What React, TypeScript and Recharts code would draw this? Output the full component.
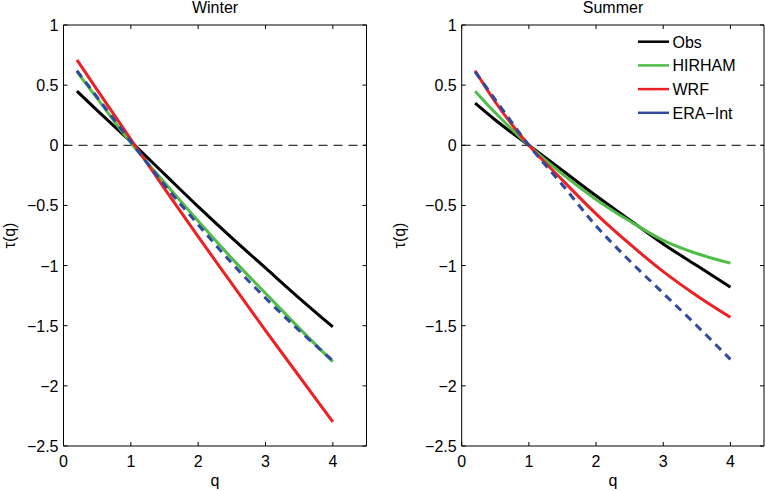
import React from "react";
import {
  Legend,
  Line,
  LineChart,
  ReferenceArea,
  ReferenceLine,
  XAxis,
  YAxis,
} from "recharts";

// q grid (curves start at q = 0.2)
const Q = [0.2, 0.5, 1, 1.5, 2, 2.5, 3, 3.5, 4];

// Winter tau(q)
const WINTER_OBS = [0.45, 0.29, 0.03, -0.24, -0.51, -0.77, -1.02, -1.27, -1.51];
const WINTER_HIRHAM = [0.61, 0.39, 0.02, -0.31, -0.63, -0.94, -1.23, -1.52, -1.8];
const WINTER_WRF = [0.71, 0.46, 0.05, -0.36, -0.76, -1.15, -1.54, -1.92, -2.3];
const WINTER_ERA = [0.62, 0.4, 0.03, -0.33, -0.66, -0.98, -1.27, -1.54, -1.79];

// Summer tau(q)
const SUMMER_OBS = [0.35, 0.21, 0.0, -0.21, -0.42, -0.62, -0.82, -1.0, -1.18];
const SUMMER_HIRHAM = [0.45, 0.27, 0.0, -0.24, -0.45, -0.63, -0.79, -0.9, -0.98];
const SUMMER_WRF = [0.62, 0.36, 0.0, -0.29, -0.57, -0.82, -1.05, -1.25, -1.43];
const SUMMER_ERA = [0.61, 0.38, 0.0, -0.33, -0.67, -0.96, -1.23, -1.5, -1.78];

const X_TICKS = [0, 1, 2, 3, 4];
const Y_TICKS = [-2.5, -2, -1.5, -1, -0.5, 0, 0.5, 1];

const SERIES = [
  { key: "obs", name: "Obs", color: "#000000", dash: undefined },
  { key: "hirham", name: "HIRHAM", color: "#4fbd47", dash: undefined },
  { key: "wrf", name: "WRF", color: "#ed2024", dash: undefined },
  { key: "era", name: "ERA\u2212Int", color: "#2f4a9e", dash: "8 6" },
];

const FONT = '"Liberation Sans", Arial, Helvetica, sans-serif';
const FS = 16;
const H = 491;
const TOP = 25;
const BOTTOM = 446;

const fmt = (v: number) => (v < 0 ? "\u2212" + Math.abs(v) : String(v));

function rows(obs: number[], hirham: number[], wrf: number[], era: number[]) {
  return Q.map((q, i) => ({
    q,
    obs: obs[i],
    hirham: hirham[i],
    wrf: wrf[i],
    era: era[i],
  }));
}

function xTick(top: number) {
  return (p: any) => {
    const { x, y, payload } = p;
    return (
      <g>
        <line x1={x} x2={x} y1={y} y2={y - 4} stroke="#000" />
        <line x1={x} x2={x} y1={top} y2={top + 4} stroke="#000" />
        <text x={x} y={y + 21} textAnchor="middle" fontSize={FS} fontFamily={FONT} fill="#000">
          {fmt(payload.value)}
        </text>
      </g>
    );
  };
}

function yTick(right: number) {
  return (p: any) => {
    const { x, y, payload } = p;
    return (
      <g>
        <line x1={x} x2={x + 4} y1={y} y2={y} stroke="#000" />
        <line x1={right - 4} x2={right} y1={y} y2={y} stroke="#000" />
        <text x={x - 5} y={y + 6} textAnchor="end" fontSize={FS} fontFamily={FONT} fill="#000">
          {fmt(payload.value)}
        </text>
      </g>
    );
  };
}

function LegendBox() {
  return (
    <svg width={120} height={100}>
      {SERIES.map((s, i) => {
        const cy = 11.7 + i * 23.7;
        return (
          <g key={s.key}>
            <line x1={0} x2={31} y1={cy} y2={cy} stroke={s.color} strokeWidth={2.5} />
            <text x={34.5} y={cy + 6} fontSize={FS} fontFamily={FONT} fill="#000">
              {s.name}
            </text>
          </g>
        );
      })}
    </svg>
  );
}

function Panel({
  data,
  width,
  yWidth,
  right,
  plotRight,
  legend,
}: {
  data: any[];
  width: number;
  yWidth: number;
  right: number;
  plotRight: number;
  legend?: boolean;
}) {
  return (
    <LineChart
      width={width}
      height={H}
      data={data}
      margin={{ top: TOP, right, left: 0, bottom: 0 }}
    >
      <XAxis
        dataKey="q"
        type="number"
        domain={[0, 4.5]}
        ticks={X_TICKS}
        height={H - BOTTOM}
        axisLine={false}
        tickLine={false}
        tickSize={0}
        tickMargin={0}
        tick={xTick(TOP)}
        label={{ value: "q", position: "insideBottom", offset: 5, fontSize: FS, fontFamily: FONT, fill: "#000" }}
      />
      <YAxis
        type="number"
        domain={[-2.5, 1]}
        ticks={Y_TICKS}
        width={yWidth}
        axisLine={false}
        tickLine={false}
        tickSize={0}
        tickMargin={0}
        tick={yTick(plotRight)}
        label={{
          value: "\u03c4(q)",
          angle: -90,
          position: "insideLeft",
          offset: 9,
          fontSize: FS,
          fontFamily: FONT,
          fill: "#000",
          style: { textAnchor: "middle" },
        }}
      />
      <ReferenceLine y={0} stroke="#000" strokeWidth={1} strokeDasharray="9 6" />
      <ReferenceArea x1={0} x2={4.5} y1={-2.5} y2={1} fill="none" stroke="#000" strokeWidth={1} />
      {SERIES.map((s) => (
        <Line
          key={s.key}
          dataKey={s.key}
          name={s.name}
          type="monotone"
          stroke={s.color}
          strokeWidth={3}
          strokeDasharray={s.dash}
          dot={false}
          activeDot={false}
          isAnimationActive={false}
        />
      ))}
      {legend && (
        <Legend
          layout="vertical"
          align="center"
          verticalAlign="middle"
          content={<LegendBox />}
          wrapperStyle={{ left: 248, top: 30, width: 120, height: 100 }}
        />
      )}
    </LineChart>
  );
}

const titleStyle = (cx: number): React.CSSProperties => ({
  position: "absolute",
  left: cx - 60,
  top: 0,
  width: 120,
  textAlign: "center",
  fontFamily: FONT,
  fontSize: FS,
  lineHeight: "16px",
  color: "#000",
});

export default function App() {
  const winter = rows(WINTER_OBS, WINTER_HIRHAM, WINTER_WRF, WINTER_ERA);
  const summer = rows(SUMMER_OBS, SUMMER_HIRHAM, SUMMER_WRF, SUMMER_ERA);
  return (
    <div
      style={{
        position: "absolute",
        left: 0,
        top: 0,
        width: 765,
        height: H,
        background: "#fff",
        overflow: "hidden",
      }}
    >
      <div style={{ position: "absolute", left: 0, top: 0 }}>
        <Panel data={winter} width={380} yWidth={63.5} right={13.5} plotRight={366.5} />
      </div>
      <div style={{ position: "absolute", left: 390, top: 0 }}>
        <Panel data={summer} width={375} yWidth={71.7} right={1} plotRight={374} legend />
      </div>
      <div style={titleStyle(215)}>Winter</div>
      <div style={titleStyle(613)}>Summer</div>
    </div>
  );
}
